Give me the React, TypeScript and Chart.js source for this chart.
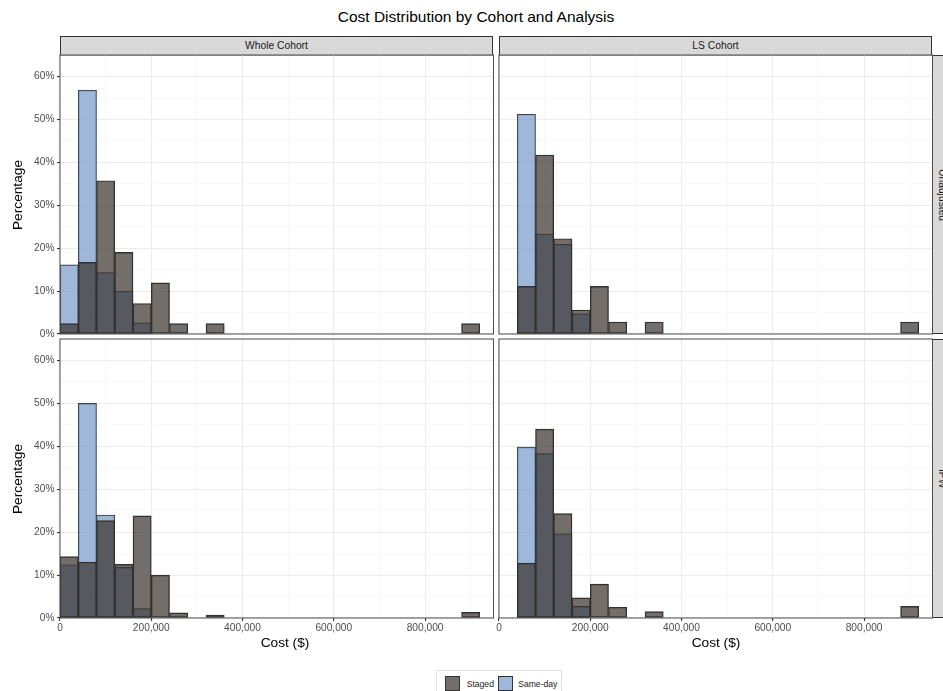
import React, { useEffect, useRef } from "react";
import { Chart, registerables } from "chart.js";

Chart.register(...registerables);

// ---- Data (percent of cohort per 40,000-wide cost bin; values are bin midpoints) ----
const costBins = [
  20000, 60000, 100000, 140000, 180000, 220000, 260000, 300000, 340000, 380000, 420000, 460000,
  500000, 540000, 580000, 620000, 660000, 700000, 740000, 780000, 820000, 860000, 900000,
];

const wholeUnadjStaged = [2.4, 16.7, 35.7, 19.0, 7.1, 11.9, 2.4, 0, 2.4, 0, 0, 0, 0, 0, 0, 0, 0, 0, 0, 0, 0, 0, 2.4];
const wholeUnadjSameDay = [16.1, 56.8, 14.3, 10.0, 2.6, 0, 0, 0, 0, 0, 0, 0, 0, 0, 0, 0, 0, 0, 0, 0, 0, 0, 0];
const lsUnadjStaged = [0, 11.1, 41.7, 22.2, 5.6, 11.1, 2.8, 0, 2.8, 0, 0, 0, 0, 0, 0, 0, 0, 0, 0, 0, 0, 0, 2.8];
const lsUnadjSameDay = [0, 51.2, 23.3, 20.9, 4.7, 0, 0, 0, 0, 0, 0, 0, 0, 0, 0, 0, 0, 0, 0, 0, 0, 0, 0];
const wholeIpwStaged = [14.3, 13.0, 22.7, 12.5, 23.8, 10.0, 1.2, 0, 0.7, 0, 0, 0, 0, 0, 0, 0, 0, 0, 0, 0, 0, 0, 1.3];
const wholeIpwSameDay = [12.4, 50.0, 24.0, 11.8, 2.2, 0, 0, 0, 0, 0, 0, 0, 0, 0, 0, 0, 0, 0, 0, 0, 0, 0, 0];
const lsIpwStaged = [0, 12.8, 44.0, 24.3, 4.7, 7.9, 2.5, 0, 1.5, 0, 0, 0, 0, 0, 0, 0, 0, 0, 0, 0, 0, 0, 2.7];
const lsIpwSameDay = [0, 39.8, 38.3, 19.6, 2.7, 0, 0, 0, 0, 0, 0, 0, 0, 0, 0, 0, 0, 0, 0, 0, 0, 0, 0];

const seriesNames = ["Staged", "Same-day"];
const cohortLabels = ["Whole Cohort", "LS Cohort"];
const analysisLabels = ["Unadjusted", "IPW"];

// x grid / ticks (every 100,000; labelled every 200,000)
const xTickValues = [0, 100000, 200000, 300000, 400000, 500000, 600000, 700000, 800000, 900000];
const xTickLabels = ["0", "", "200,000", "", "400,000", "", "600,000", "", "800,000", ""];
// y grid / ticks (every 5%; labelled every 10%)
const yTickValues = [0, 5, 10, 15, 20, 25, 30, 35, 40, 45, 50, 55, 60, 65];
const yTickLabels = ["0%", "", "10%", "", "20%", "", "30%", "", "40%", "", "50%", "", "60%", ""];

const xMin = 0;
const xMax = 950000;
const yMin = 0;
const yMax = 65;

// ---- Styles ----
const FONT = '"Liberation Sans", Arial, Helvetica, sans-serif';
const STAGED_FILL = "rgba(55,49,43,0.7)";
const SAMEDAY_FILL = "rgba(118,152,201,0.7)";
const BAR_EDGE = "#333333";
const GRID_MAJOR = "#ebebeb";
const GRID_MINOR = "#f5f5f5";
const PANEL_BORDER = "#4d4d4d";
const STRIP_FILL = "#d9d9d9";
const STRIP_BORDER = "#333333";
const TICK_TEXT = "#4d4d4d";

const PW = 433.5;
const PH = 279;
const YW = 60; // reserved y-axis width inside each canvas
const M = 14; // top / right margin inside each canvas
const XB = 30; // bottom room inside each canvas

const panelBorder = {
  id: "panelBorder",
  afterDatasetsDraw(chart: any) {
    const { ctx, chartArea } = chart;
    ctx.save();
    ctx.strokeStyle = PANEL_BORDER;
    ctx.lineWidth = 1;
    ctx.strokeRect(chartArea.left, chartArea.top, chartArea.right - chartArea.left, chartArea.bottom - chartArea.top);
    ctx.restore();
  },
};

const isMajor = (labels: string[], values: number[]) => (c: any) => {
  if (!c.tick) return false;
  const i = values.indexOf(c.tick.value);
  return i >= 0 && labels[i] !== "";
};
const xMajor = isMajor(xTickLabels, xTickValues);
const yMajor = isMajor(yTickLabels, yTickValues);

type PanelProps = {
  staged: number[];
  sameDay: number[];
  left: number;
  top: number;
  showY: boolean;
  showX: boolean;
};

function Panel({ staged, sameDay, left, top, showY, showX }: PanelProps) {
  const ref = useRef<HTMLCanvasElement>(null);
  useEffect(() => {
    if (!ref.current) return;
    const toPts = (arr: number[]) => costBins.map((x, i) => ({ x, y: arr[i] > 0 ? arr[i] : null }));
    const barCommon = {
      borderColor: BAR_EDGE,
      borderWidth: 0.75,
      borderSkipped: false as const,
      grouped: false,
      barPercentage: 1,
      categoryPercentage: 1,
    };
    const chart = new Chart(ref.current, {
      type: "bar",
      data: {
        datasets: [
          { label: seriesNames[0], data: toPts(staged) as any, backgroundColor: STAGED_FILL, ...barCommon },
          { label: seriesNames[1], data: toPts(sameDay) as any, backgroundColor: SAMEDAY_FILL, ...barCommon },
        ],
      },
      options: {
        animation: false,
        responsive: true,
        maintainAspectRatio: false,
        layout: { padding: { left: 0, top: M, right: M, bottom: showX ? XB - 20 : XB } },
        plugins: { legend: { display: false }, tooltip: { enabled: false } },
        scales: {
          x: {
            type: "linear",
            min: xMin,
            max: xMax,
            offset: false,
            border: { display: false },
            afterBuildTicks: (s: any) => {
              s.ticks = xTickValues.map((v) => ({ value: v }));
            },
            grid: {
              offset: false,
              color: (c: any) => (xMajor(c) ? GRID_MAJOR : GRID_MINOR),
              lineWidth: (c: any) => (xMajor(c) ? 1.1 : 0.7),
              drawTicks: showX,
              tickLength: 3,
              tickColor: (c: any) => (xMajor(c) ? "#333333" : "rgba(0,0,0,0)"),
            },
            ticks: {
              display: showX,
              autoSkip: false,
              maxRotation: 0,
              minRotation: 0,
              padding: 1,
              color: TICK_TEXT,
              font: { family: FONT, size: 10.2 },
              callback: (_v: any, i: number) => xTickLabels[i],
            },
            afterFit: (s: any) => {
              s.height = showX ? 20 : 0;
            },
          },
          y: {
            type: "linear",
            min: yMin,
            max: yMax,
            border: { display: false },
            afterBuildTicks: (s: any) => {
              s.ticks = yTickValues.map((v) => ({ value: v }));
            },
            grid: {
              color: (c: any) => (yMajor(c) ? GRID_MAJOR : GRID_MINOR),
              lineWidth: (c: any) => (yMajor(c) ? 1.1 : 0.7),
              drawTicks: showY,
              tickLength: 3,
              tickColor: (c: any) => (yMajor(c) ? "#333333" : "rgba(0,0,0,0)"),
            },
            ticks: {
              display: showY,
              autoSkip: false,
              padding: 2.5,
              color: TICK_TEXT,
              font: { family: FONT, size: 10.2 },
              callback: (_v: any, i: number) => yTickLabels[i],
            },
            afterFit: (s: any) => {
              s.width = YW;
            },
          },
        },
      },
      plugins: [panelBorder],
    });
    return () => chart.destroy();
  }, [staged, sameDay, showX, showY]);

  return (
    <div
      style={{
        position: "absolute",
        left: left - YW,
        top: top - M,
        width: PW + YW + M,
        height: PH + M + XB,
      }}
    >
      <canvas ref={ref} />
    </div>
  );
}

const textBase: React.CSSProperties = { position: "absolute", fontFamily: FONT, whiteSpace: "nowrap", lineHeight: 1 };

export default function App() {
  const colLefts = [59.7, 498.8];
  const rowTops = [55.3, 339.3];
  const panels = [
    { staged: wholeUnadjStaged, sameDay: wholeUnadjSameDay, c: 0, r: 0 },
    { staged: lsUnadjStaged, sameDay: lsUnadjSameDay, c: 1, r: 0 },
    { staged: wholeIpwStaged, sameDay: wholeIpwSameDay, c: 0, r: 1 },
    { staged: lsIpwStaged, sameDay: lsIpwSameDay, c: 1, r: 1 },
  ];
  return (
    <div
      style={{
        position: "absolute",
        left: 0,
        top: 0,
        width: 943,
        height: 691,
        overflow: "hidden",
        background: "#ffffff",
        fontFamily: FONT,
      }}
    >
      {/* Title */}
      <div style={{ ...textBase, left: 476, top: 8.6, fontSize: 15.5, color: "#000", transform: "translateX(-50%)" }}>
        Cost Distribution by Cohort and Analysis
      </div>

      {/* Top strips */}
      {cohortLabels.map((lab, i) => (
        <div
          key={lab}
          style={{
            position: "absolute",
            left: colLefts[i],
            top: 35.7,
            width: PW,
            height: 20.1,
            boxSizing: "border-box",
            background: STRIP_FILL,
            border: `1px solid ${STRIP_BORDER}`,
            display: "flex",
            alignItems: "center",
            justifyContent: "center",
            fontSize: 10.3,
            color: "#1a1a1a",
            fontFamily: FONT,
          }}
        >
          {lab}
        </div>
      ))}

      {/* Right strips */}
      {analysisLabels.map((lab, i) => (
        <div
          key={lab}
          style={{
            position: "absolute",
            left: 932.3,
            top: rowTops[i],
            width: 20.1,
            height: PH,
            boxSizing: "border-box",
            background: STRIP_FILL,
            border: `1px solid ${STRIP_BORDER}`,
            display: "flex",
            alignItems: "center",
            justifyContent: "center",
            fontSize: 10.3,
            color: "#1a1a1a",
            fontFamily: FONT,
            writingMode: "vertical-rl",
          }}
        >
          {lab}
        </div>
      ))}

      {/* Panels */}
      {panels.map((p, i) => (
        <Panel
          key={i}
          staged={p.staged}
          sameDay={p.sameDay}
          left={colLefts[p.c]}
          top={rowTops[p.r]}
          showY={p.c === 0}
          showX={p.r === 1}
        />
      ))}

      {/* Y axis titles */}
      {rowTops.map((t, i) => (
        <div
          key={i}
          style={{
            ...textBase,
            left: 18,
            top: t + PH / 2,
            fontSize: 13.7,
            color: "#000",
            transform: "translate(-50%, -50%) rotate(-90deg)",
          }}
        >
          Percentage
        </div>
      ))}

      {/* X axis titles */}
      {[285, 716].map((cx, i) => (
        <div
          key={i}
          style={{ ...textBase, left: cx, top: 635.5, fontSize: 13.7, color: "#000", transform: "translateX(-50%)" }}
        >
          Cost ($)
        </div>
      ))}

      {/* Legend */}
      <div
        style={{
          position: "absolute",
          left: 435.7,
          top: 670,
          width: 126.3,
          height: 30,
          boxSizing: "border-box",
          border: "1px solid #e3e3e3",
          background: "#fff",
        }}
      >
        {[STAGED_FILL, SAMEDAY_FILL].map((fill, i) => (
          <React.Fragment key={i}>
            <div
              style={{
                position: "absolute",
                left: i === 0 ? 8.3 : 61.3,
                top: 4.5,
                width: 15.5,
                height: 15.5,
                boxSizing: "border-box",
                background: fill,
                border: `1px solid ${BAR_EDGE}`,
              }}
            />
            <div
              style={{
                ...textBase,
                left: i === 0 ? 30 : 81.5,
                top: 8.8,
                fontSize: 8.6,
                color: "#1a1a1a",
              }}
            >
              {seriesNames[i]}
            </div>
          </React.Fragment>
        ))}
      </div>
    </div>
  );
}
